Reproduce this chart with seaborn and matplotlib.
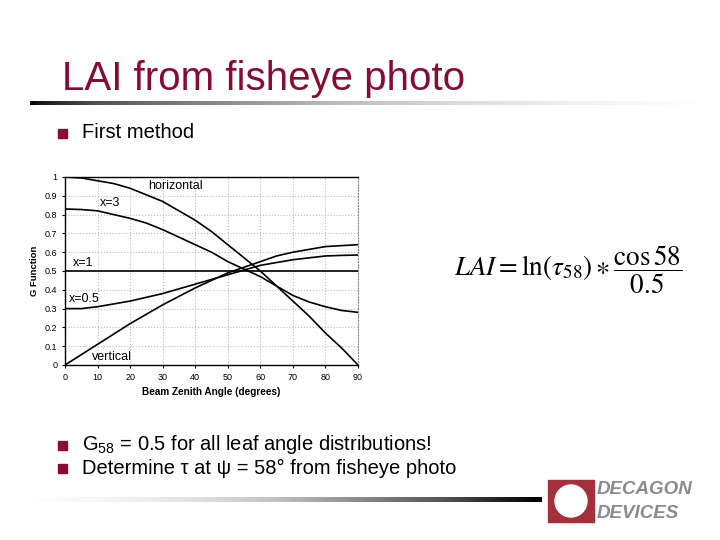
import numpy as np
import pandas as pd
import matplotlib
matplotlib.use('Agg')
import matplotlib.pyplot as plt
import seaborn as sns
from matplotlib.patches import Rectangle, Ellipse

sns.set_style('white')
plt.rcParams['font.family'] = ['Liberation Sans', 'DejaVu Sans']
plt.rcParams['mathtext.fontset'] = 'stix'
plt.rcParams.update({'text.color': 'black', 'axes.labelcolor': 'black',
                     'xtick.color': 'black', 'ytick.color': 'black'})

# values (every 5 degrees)
angles = [0, 5, 10, 15, 20, 25, 30, 35, 40, 45, 50, 55, 60, 65, 70, 75, 80, 85, 90]
g_horizontal = [1.0, 0.995, 0.98, 0.965, 0.94, 0.905, 0.87, 0.82, 0.77, 0.71,
                0.64, 0.57, 0.50, 0.42, 0.34, 0.26, 0.17, 0.09, 0.0]
g_x3 = [0.83, 0.827, 0.82, 0.80, 0.78, 0.755, 0.72, 0.68, 0.64, 0.60,
        0.55, 0.51, 0.47, 0.42, 0.37, 0.335, 0.31, 0.29, 0.28]
g_x1 = [0.5] * 19
g_x05 = [0.30, 0.30, 0.31, 0.325, 0.34, 0.36, 0.38, 0.405, 0.43, 0.455,
         0.48, 0.505, 0.53, 0.545, 0.56, 0.57, 0.58, 0.583, 0.585]
g_vertical = [0.0, 0.055, 0.11, 0.165, 0.22, 0.27, 0.32, 0.365, 0.41, 0.45,
              0.49, 0.52, 0.55, 0.58, 0.60, 0.615, 0.63, 0.635, 0.64]

series = {'horizontal': g_horizontal, 'x=3': g_x3, 'x=1': g_x1,
          'x=0.5': g_x05, 'vertical': g_vertical}
df = pd.concat([pd.DataFrame({'angle': angles, 'G': v, 'dist': k})
                for k, v in series.items()], ignore_index=True)

W, H = 720, 540
fig = plt.figure(figsize=(7.2, 5.4), dpi=100)
fig.patch.set_facecolor('white')
red = '#880a35'

# slide title + gradient rules
fig.text(62 / W, 1 - 90 / H, 'LAI from fisheye photo', fontsize=29, color=red,
         va='baseline', ha='left')
grad = np.linspace(0, 1, 256).reshape(1, -1)
ax_top = fig.add_axes([30 / W, 1 - 105 / H, 680 / W, 4 / H])
ax_top.imshow(grad ** 0.6, cmap='Greys_r', aspect='auto', vmin=0, vmax=1)
ax_top.axis('off')
ax_bot = fig.add_axes([0 / W, 1 - 502 / H, 542 / W, 5 / H])
ax_bot.imshow(1 - grad ** 1.5, cmap='Greys_r', aspect='auto', vmin=0, vmax=1)
ax_bot.axis('off')

# bullets
def bullet(y, text):
    fig.patches.append(Rectangle((58 / W, 1 - (y + 5) / H), 9 / W, 9 / H,
                                 transform=fig.transFigure, color=red))
    fig.text(82 / W, 1 - y / H, text, fontsize=14.5, va='center', ha='left',
             math_fontfamily='dejavusans')

bullet(133, 'First method')
bullet(445, r'G$_{\mathregular{58}}$ = 0.5 for all leaf angle distributions!')
bullet(468, 'Determine τ at ψ = 58° from fisheye photo')

# formula
fig.text(568 / W, 1 - 270 / H, r'$LAI = \ln(\tau_{58})\ast\dfrac{\cos 58}{0.5}$',
         fontsize=19.5, ha='center', va='center')

# logo
fig.patches.append(Rectangle((548 / W, 1 - 522 / H), 46 / W, 42 / H,
                             transform=fig.transFigure, color='#a3303a'))
fig.patches.append(Ellipse((571 / W, 1 - 501 / H), 32 / W, 32 / H,
                           transform=fig.transFigure, color='white'))
fig.text(597 / W, 1 - 490 / H, 'DECAGON', fontsize=13.5, color='#8a8a8a',
         fontweight='bold', style='italic', va='center', ha='left')
fig.text(597 / W, 1 - 513 / H, 'DEVICES', fontsize=13.5, color='#8a8a8a',
         fontweight='bold', style='italic', va='center', ha='left')

# chart
ax = fig.add_axes([65 / W, 1 - 365 / H, 293 / W, 188 / H])
sns.lineplot(data=df, x='angle', y='G', hue='dist', palette=['black'] * 5,
             legend=False, linewidth=1.2, ax=ax)
ax.set_xlim(0, 90)
ax.set_ylim(0, 1)
ax.set_xticks(range(0, 91, 10))
ax.set_yticks(np.round(np.arange(0, 1.01, 0.1), 1))
ax.set_yticklabels(['0', '0.1', '0.2', '0.3', '0.4', '0.5', '0.6', '0.7', '0.8', '0.9', '1'])
ax.tick_params(labelsize=6.5, length=2, direction='out', left=True, bottom=True)
ax.grid(True, color='#bbbbbb', linestyle=':', linewidth=0.8)
ax.set_xlabel('Beam Zenith Angle (degrees)', fontsize=7.2, fontweight='bold')
ax.set_ylabel('G Function', fontsize=6.8, fontweight='bold')
for s in ['left', 'bottom', 'top']:
    ax.spines[s].set_color('black')
    ax.spines[s].set_linewidth(1)
ax.spines['right'].set_linestyle(':')
ax.spines['right'].set_color('#888888')

ann = [('horizontal', 25.5, 0.95), ('x=3', 10.7, 0.86), ('x=1', 2.4, 0.545),
       ('x=0.5', 1.3, 0.35), ('vertical', 8.2, 0.045)]
for t, x, y in ann:
    ax.text(x, y, t, fontsize=9, va='center', ha='left')

fig.savefig('out.png', dpi=100)
